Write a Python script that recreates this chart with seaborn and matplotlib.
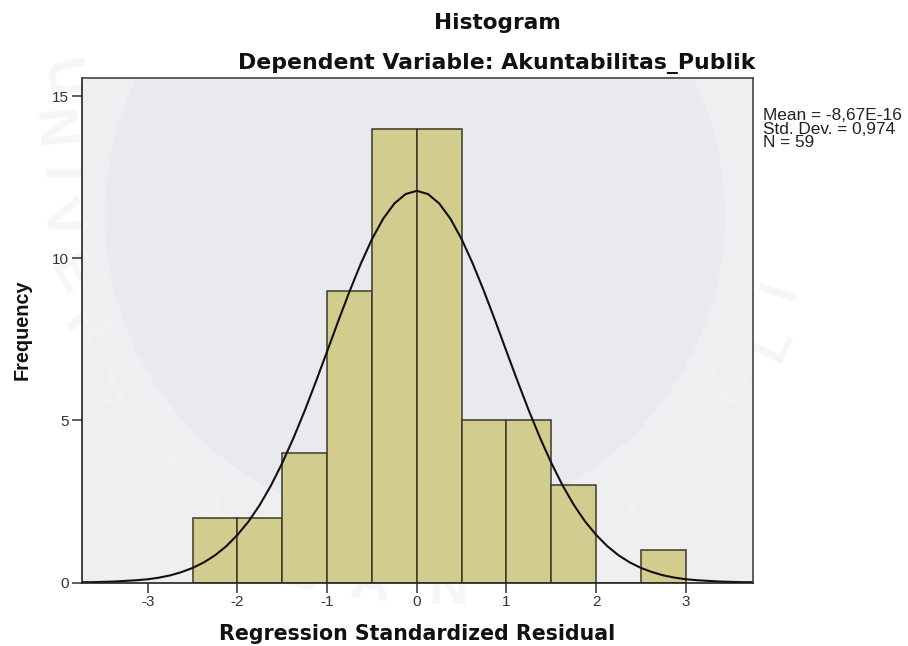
import seaborn as sns
import matplotlib.pyplot as plt
from matplotlib.patches import Ellipse

# bins and counts
bin_edges = [-2.5, -2, -1.5, -1, -0.5, 0, 0.5, 1, 1.5, 2, 2.5, 3]
bin_left = [-2.5, -2, -1.5, -1, -0.5, 0, 0.5, 1, 1.5, 2, 2.5]
counts = [2, 2, 4, 9, 14, 14, 5, 5, 3, 0, 1]

# normal curve
curve_x = [-3.75, -3.625, -3.5, -3.375, -3.25, -3.125, -3, -2.875, -2.75, -2.625, -2.5, -2.375, -2.25, -2.125, -2,
           -1.875, -1.75, -1.625, -1.5, -1.375, -1.25, -1.125, -1, -0.875, -0.75, -0.625, -0.5, -0.375, -0.25, -0.125, 0,
           0.125, 0.25, 0.375, 0.5, 0.625, 0.75, 0.875, 1, 1.125, 1.25, 1.375, 1.5, 1.625, 1.75, 1.875,
           2, 2.125, 2.25, 2.375, 2.5, 2.625, 2.75, 2.875, 3, 3.125, 3.25, 3.375, 3.5, 3.625, 3.75]
curve_y = [0.01, 0.01, 0.02, 0.03, 0.05, 0.07, 0.1, 0.15, 0.22, 0.32, 0.45, 0.62, 0.84, 1.12, 1.47,
           1.89, 2.4, 3.0, 3.69, 4.46, 5.3, 6.2, 7.13, 8.07, 8.98, 9.83, 10.59, 11.22, 11.69, 11.98, 12.08,
           11.98, 11.69, 11.22, 10.59, 9.83, 8.98, 8.07, 7.13, 6.2, 5.3, 4.46, 3.69, 3.0, 2.4, 1.89,
           1.47, 1.12, 0.84, 0.62, 0.45, 0.32, 0.22, 0.15, 0.1, 0.07, 0.05, 0.03, 0.02, 0.01, 0.01]

x_ticks = [-3, -2, -1, 0, 1, 2, 3]
y_ticks = [0, 5, 10, 15]

# faint watermark letters: letter, x px, y px, rotation
watermark = [('U', 60, 80, -80), ('N', 50, 130, -85), ('I', 55, 175, -90), ('V', 60, 220, -70),
             ('E', 70, 275, -60), ('R', 85, 330, -50), ('S', 110, 390, -45), ('I', 135, 440, -40),
             ('T', 160, 475, -38), ('A', 205, 510, -30), ('S', 245, 545, -25), ('B', 300, 575, -15),
             ('A', 370, 585, -8), ('N', 448, 590, 0), ('G', 500, 565, 10), ('S', 565, 560, 20),
             ('A', 643, 513, 35), ('B', 703, 450, 48), ('E', 727, 383, 58), ('L', 773, 343, 65),
             ('I', 780, 290, 72)]

sns.set_style('ticks')
plt.rcParams['font.family'] = ['Liberation Sans', 'DejaVu Sans']
plt.rcParams['axes.unicode_minus'] = False

fig = plt.figure(figsize=(9.08, 6.46), dpi=100)
ax = fig.add_axes([81.5 / 908, 1 - 582.5 / 646, (753 - 81.5) / 908, (582.5 - 78) / 646])
ax.set_facecolor('#eeeff1')

# darker disc of the watermark behind the plot
ax.add_patch(Ellipse((415 / 908, 1 - 215 / 646), 620 / 908, 620 / 646, transform=fig.transFigure,
                     color='#e9eaed', lw=0, zorder=0.3))
for letter, px, py, rot in watermark:
    fig.text(px / 908, 1 - py / 646, letter, color='#f6f6f6', fontsize=40, fontweight='bold',
             ha='center', va='center', rotation=rot, zorder=-1)
    ax.text(px / 908, 1 - py / 646, letter, color='#f2f2f3', fontsize=40, fontweight='bold', ha='center',
            va='center', rotation=rot, transform=fig.transFigure, clip_on=True, zorder=0.5)

sns.histplot(x=bin_left, weights=counts, bins=bin_edges, color='#d2cc8e', alpha=1,
             edgecolor='#3a3a2a', linewidth=1.1, ax=ax)
sns.lineplot(x=curve_x, y=curve_y, color='#111111', linewidth=1.5, ax=ax)

ax.set_xlim(-3.74, 3.75)
ax.set_ylim(0, 15.56)
ax.set_xticks(x_ticks)
ax.set_yticks(y_ticks)
ax.tick_params(length=7, width=1.1, labelsize=11, color='#333333', labelcolor='#333333', pad=2)
for s in ax.spines.values():
    s.set_linewidth(1.2)
    s.set_color('#444444')
ax.spines['bottom'].set_color('#222222')
ax.spines['left'].set_color('#222222')

ax.set_xlabel('Regression Standardized Residual', fontsize=14.8, fontweight='bold', family='DejaVu Sans',
              color='#111111', labelpad=11)
ax.set_ylabel('Frequency', fontsize=14.3, fontweight='bold', color='#111111', labelpad=15)

fig.text(497 / 908, 1 - 23 / 646, 'Histogram', ha='center', va='center', fontsize=15.6, fontweight='bold',
         family='DejaVu Sans', color='#111111')
fig.text(497 / 908, 1 - 64 / 646, 'Dependent Variable: Akuntabilitas_Publik', ha='center', va='center',
         fontsize=15.8, fontweight='bold', family='DejaVu Sans', color='#111111')
fig.text(763 / 908, 1 - 129 / 646, 'Mean = -8,67E-16\nStd. Dev. = 0,974\nN = 59', ha='left', va='center',
         fontsize=12.4, linespacing=0.88, color='#222222')

fig.savefig('out.png', dpi=100)
